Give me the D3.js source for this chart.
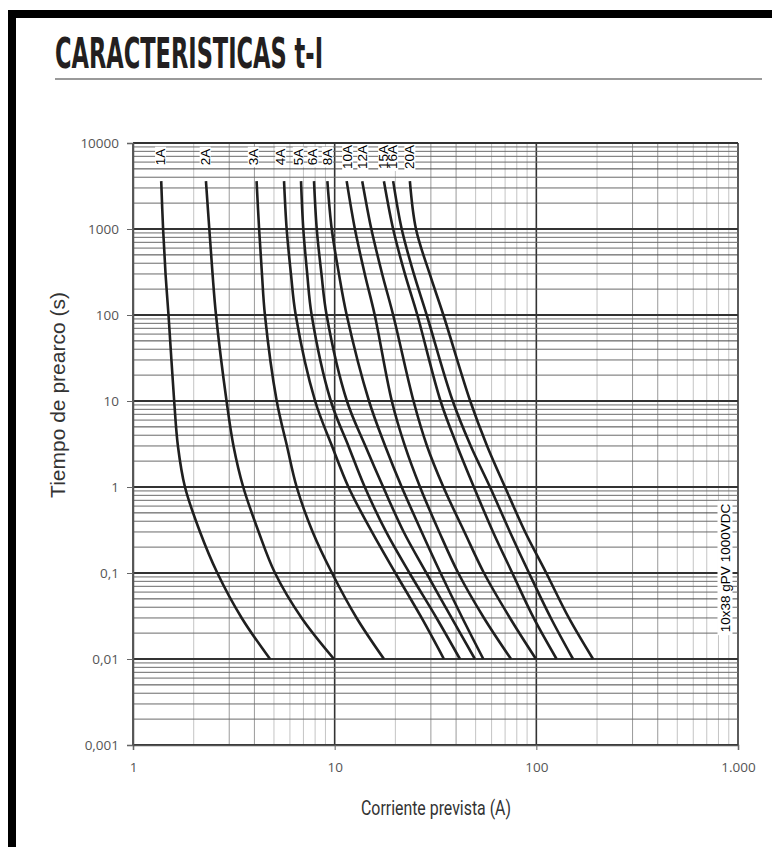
<!DOCTYPE html>
<html>
<head>
<meta charset="utf-8">
<script src="https://cdn.jsdelivr.net/npm/d3@7"></script>
<style>
html, body { margin: 0; padding: 0; background: #fff; }
svg { display: block; }
</style>
</head>
<body>
<svg id="chart" width="772" height="847"></svg>
<script>
// fuse ratings, one curve each
const ratings = ["1A", "2A", "3A", "4A", "5A", "6A", "8A", "10A", "12A", "15A", "16A", "20A"];
// pre-arcing times (s) at which the curves were read
const times = [3600, 1000, 300, 100, 10, 3, 1, 0.3, 0.1, 0.03, 0.01];
// prospective current (A) at those times
const cur1A  = [1.38, 1.41, 1.45, 1.50, 1.60, 1.67, 1.81, 2.15, 2.62, 3.46, 4.78];
const cur2A  = [2.30, 2.39, 2.48, 2.58, 2.91, 3.15, 3.52, 4.20, 5.06, 6.86, 9.92];
const cur3A  = [4.10, 4.22, 4.36, 4.51, 5.16, 5.80, 6.48, 7.78, 9.70, 12.85, 17.56];
const cur4A  = [5.61, 5.78, 6.07, 6.41, 8.00, 9.70, 11.7, 15.3, 20.0, 27.0, 34.8];
const cur5A  = [6.81, 6.99, 7.31, 7.69, 9.57, 11.7, 14.1, 18.0, 23.5, 32.0, 41.8];
const cur6A  = [7.90, 8.15, 8.60, 9.12, 11.5, 14.2, 17.4, 22.0, 28.5, 38.0, 49.6];
const cur8A  = [9.20, 9.67, 10.5, 11.47, 14.8, 17.8, 21.5, 27.0, 33.5, 43.0, 54.6];
const cur10A = [11.47, 12.6, 14.1, 15.8, 19.2, 22.3, 26.5, 33.0, 41.0, 55.0, 74.9];
const cur12A = [13.7, 15.2, 17.2, 19.5, 24.6, 28.7, 34.6, 44.0, 55.0, 74.0, 99.6];
const cur15A = [17.55, 19.5, 22.3, 25.7, 33.5, 40.5, 49.0, 61.0, 76.0, 97.0, 126];
const cur16A = [19.5, 21.5, 24.7, 28.6, 38.5, 47.3, 58.9, 74.0, 92.0, 118, 152];
const cur20A = [23.6, 25.3, 29.6, 34.6, 47.0, 57.0, 69.9, 88.0, 112, 145, 191];
const currents = [cur1A, cur2A, cur3A, cur4A, cur5A, cur6A, cur8A, cur10A, cur12A, cur15A, cur16A, cur20A];
// where each rating label sits along the current axis (A)
const labelAt = [1.37, 2.28, 3.95, 5.40, 6.60, 7.80, 9.20, 11.6, 13.8, 17.5, 19.4, 23.6];

const xTicks = [1, 10, 100, 1000];
const xTickLabels = ["1", "10", "100", "1.000"];
const yTicks = [0.001, 0.01, 0.1, 1, 10, 100, 1000, 10000];
const yTickLabels = ["0,001", "0,01", "0,1", "1", "10", "100", "1000", "10000"];

const svg = d3.select("#chart");

// black frame on top and left
svg.append("rect").attr("x", 8).attr("y", 10).attr("width", 764).attr("height", 8).attr("fill", "#000");
svg.append("rect").attr("x", 8).attr("y", 10).attr("width", 8).attr("height", 837).attr("fill", "#000");

// heading
svg.append("text")
    .attr("x", 55).attr("y", 68)
    .attr("font-family", "'Liberation Sans Narrow', 'DejaVu Sans Condensed', 'Roboto Condensed', sans-serif")
    .attr("font-stretch", "condensed")
    .attr("font-weight", "bold")
    .attr("font-size", 42)
    .attr("fill", "#231f20")
    .attr("textLength", 268)
    .attr("lengthAdjust", "spacingAndGlyphs")
    .text("CARACTERISTICAS t-I");
svg.append("line")
    .attr("x1", 55).attr("x2", 762).attr("y1", 79).attr("y2", 79)
    .attr("stroke", "#9a9a9a").attr("stroke-width", 2);

// scales
const x = d3.scaleLog().domain([1, 1000]).range([133, 738]);
const y = d3.scaleLog().domain([0.001, 10000]).range([745, 143]);

const isDecade = v => Math.abs(Math.log10(v) - Math.round(Math.log10(v))) < 1e-6;
const lead = v => Math.round(v / Math.pow(10, Math.floor(Math.log10(v) + 1e-9)));

// grid
const grid = svg.append("g");
grid.selectAll("line.v").data(x.ticks()).enter().append("line")
    .attr("x1", d => x(d)).attr("x2", d => x(d))
    .attr("y1", 143).attr("y2", 745)
    .attr("stroke", d => isDecade(d) ? "#333" : (lead(d) === 3 || lead(d) === 4 ? "#9a9a9a" : "#c4c4c4"))
    .attr("stroke-width", d => isDecade(d) ? 1.6 : 1);
grid.selectAll("line.h").data(y.ticks()).enter().append("line")
    .attr("x1", 133).attr("x2", 738)
    .attr("y1", d => y(d)).attr("y2", d => y(d))
    .attr("stroke", d => isDecade(d) ? "#333" : (lead(d) === 5 ? "#444" : "#6a6a6a"))
    .attr("stroke-width", d => isDecade(d) ? 2 : 1);

// curves
const line = d3.line()
    .x(d => x(d[1]))
    .y(d => y(d[0]))
    .curve(d3.curveCatmullRom.alpha(0.5));
svg.append("g").selectAll("path").data(currents).enter().append("path")
    .attr("d", c => line(times.map((t, i) => [t, c[i]])))
    .attr("fill", "none")
    .attr("stroke", "#1f1f1f")
    .attr("stroke-width", 2.6);

// rating labels on white patches (patches first, then the texts)
const patches = svg.append("g");
const labels = svg.append("g");
ratings.forEach((r, i) => {
    const pos = `translate(${x(labelAt[i])},157) rotate(-90)`;
    const t = labels.append("text")
        .attr("transform", pos)
        .attr("text-anchor", "middle")
        .attr("dominant-baseline", "central")
        .attr("font-family", "'Liberation Sans', Arial, sans-serif")
        .attr("font-size", 13.5)
        .attr("fill", "#000")
        .text(r);
    const w = t.node().getComputedTextLength();
    patches.append("rect").attr("transform", pos).attr("fill", "#fff")
        .attr("x", -w / 2 - 2).attr("y", -5.5).attr("width", w + 4).attr("height", 11);
});
// top border of the grid stays above the label patches
svg.append("line").attr("x1", 133).attr("x2", 738).attr("y1", y(10000)).attr("y2", y(10000))
    .attr("stroke", "#333").attr("stroke-width", 2);

// series note on the right
const note = svg.append("g").attr("transform", "translate(725,568) rotate(-90)");
const noteRect = note.append("rect").attr("fill", "#fff");
const noteText = note.append("text")
    .attr("text-anchor", "middle")
    .attr("dominant-baseline", "central")
    .attr("font-family", "'Liberation Sans', Arial, sans-serif")
    .attr("font-size", 13.5)
    .attr("fill", "#000")
    .text("10x38 gPV 1000VDC");
const nw = noteText.node().getComputedTextLength();
noteRect.attr("x", -nw / 2 - 3).attr("y", -7.5).attr("width", nw + 6).attr("height", 15);

// axes
const xAxis = svg.append("g").attr("transform", "translate(0,745)")
    .call(d3.axisBottom(x).tickValues(xTicks).tickFormat((d, i) => xTickLabels[i]).tickSize(5).tickPadding(12));
const yAxis = svg.append("g").attr("transform", "translate(133,0)")
    .call(d3.axisLeft(y).tickValues(yTicks).tickFormat((d, i) => yTickLabels[i]).tickSize(6).tickPadding(8));
[xAxis, yAxis].forEach(a => {
    a.select(".domain").attr("stroke", "#555").attr("stroke-width", 1.5);
    a.selectAll(".tick line").attr("stroke", "#666");
    a.selectAll(".tick text").attr("fill", "#555").attr("font-size", 13.5)
        .attr("font-family", "'Open Sans', 'Liberation Sans', sans-serif");
});

// axis titles
svg.append("text")
    .attr("transform", "translate(57,395) rotate(-90)")
    .attr("text-anchor", "middle")
    .attr("dominant-baseline", "central")
    .attr("font-family", "'Liberation Sans', Arial, sans-serif")
    .attr("font-size", 21)
    .attr("fill", "#333")
    .text("Tiempo de prearco (s)");
svg.append("text")
    .attr("x", 436).attr("y", 808)
    .attr("text-anchor", "middle")
    .attr("dominant-baseline", "central")
    .attr("font-family", "Roboto, 'Liberation Sans', sans-serif")
    .attr("font-size", 20)
    .attr("fill", "#333")
    .attr("textLength", 150)
    .attr("lengthAdjust", "spacingAndGlyphs")
    .text("Corriente prevista (A)");
</script>
</body>
</html>
